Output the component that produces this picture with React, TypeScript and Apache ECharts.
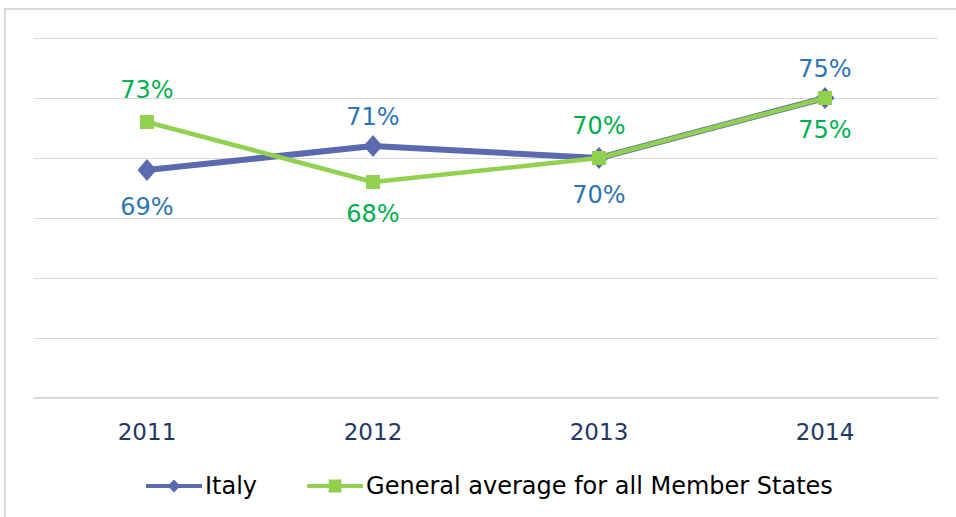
import React, { useEffect, useRef } from "react";
import * as echarts from "echarts";

const categories = ["2011", "2012", "2013", "2014"];
const italy = [69, 71, 70, 75];
const average = [73, 68, 70, 75];
const italyLabelPos = ["bottom", "top", "bottom", "top"];
const averageLabelPos = ["top", "bottom", "top", "bottom"];

export default function App() {
  const ref = useRef<HTMLDivElement>(null);
  useEffect(() => {
    const chart = echarts.init(ref.current!, null, { renderer: "svg" });
    const font = "DejaVu Sans, Verdana, sans-serif";
    const mk = (vals: number[], pos: string[], dist: { top: number; bottom: number }) =>
      vals.map((v, i) => ({
        value: v,
        label: {
          position: pos[i],
          distance: pos[i] === "top" ? dist.top : dist.bottom,
        },
      }));
    const blue = "#5B6AAE";
    const green = "#92D050";
    chart.setOption({
      animation: false,
      backgroundColor: "#ffffff",
      graphic: [
        {
          type: "rect",
          shape: { x: 5, y: 9, width: 1000, height: 600 },
          style: { fill: "none", stroke: "#d9d9d9", lineWidth: 2 },
          silent: true,
        },
      ],
      grid: { left: 34, right: 18, top: 38, bottom: 119, containLabel: false },
      xAxis: {
        type: "category",
        data: categories,
        boundaryGap: true,
        axisLine: { show: true, lineStyle: { color: "#d9d9d9", width: 2 } },
        axisTick: { show: false },
        axisLabel: { color: "#1F3864", fontSize: 23, fontFamily: font, margin: 22 },
      },
      yAxis: {
        type: "value",
        min: 50,
        max: 80,
        interval: 5,
        axisLabel: { show: false },
        axisLine: { show: false },
        axisTick: { show: false },
        splitLine: { lineStyle: { color: "#d9d9d9", width: 1 } },
      },
      legend: {
        top: 469,
        left: 139,
        itemWidth: 56,
        itemHeight: 16,
        itemGap: 48,
        textStyle: { color: "#000000", fontSize: 24, fontFamily: font, padding: [0, 0, 0, -2] },
        data: [
          { name: "Italy", lineStyle: { width: 4, color: blue }, itemStyle: { color: blue } },
          {
            name: "General average for all Member States",
            lineStyle: { width: 4, color: green },
            itemStyle: { color: green },
          },
        ],
      },
      series: [
        {
          name: "Italy",
          type: "line",
          data: mk(italy, italyLabelPos, { top: 6, bottom: 14 }),
          symbol: "diamond",
          symbolSize: [19, 22],
          itemStyle: { color: blue },
          lineStyle: { color: blue, width: 6 },
          label: {
            show: true,
            formatter: "{c}%",
            color: "#2E75B6",
            fontSize: 24,
            fontFamily: font,
          },
          z: 2,
        },
        {
          name: "General average for all Member States",
          type: "line",
          data: mk(average, averageLabelPos, { top: 13, bottom: 13 }),
          symbol: "rect",
          symbolSize: 14,
          itemStyle: { color: green },
          lineStyle: { color: green, width: 4.5 },
          label: {
            show: true,
            formatter: "{c}%",
            color: "#00B050",
            fontSize: 24,
            fontFamily: font,
          },
          z: 3,
        },
      ],
    });
    return () => chart.dispose();
  }, []);
  return <div ref={ref} style={{ width: 956, height: 517, position: "absolute", left: 0, top: 0 }} />;
}
